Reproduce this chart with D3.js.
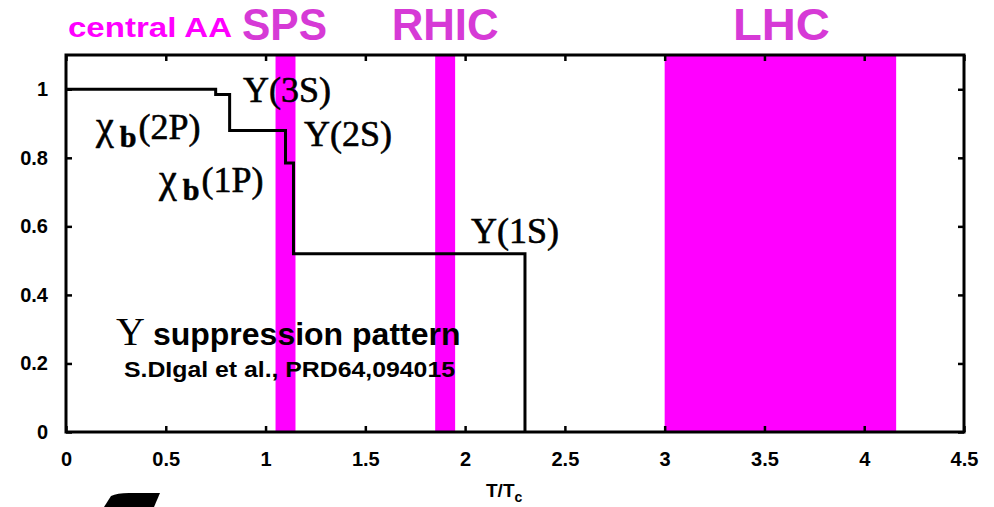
<!DOCTYPE html>
<html>
<head>
<meta charset="utf-8">
<script src="https://cdn.jsdelivr.net/npm/d3@7"></script>
<style>
  body { margin: 0; background: #fff; }
  svg { display: block; }
</style>
</head>
<body>
<div id="chart"></div>
<script>
// step function: suppression vs T/Tc
var stepT = [0, 0.75, 0.82, 1.10, 1.14, 2.30];
var stepS = [1, 0.985, 0.88, 0.785, 0.52, 0];

// collider temperature ranges
var bandNames = ['SPS', 'RHIC', 'LHC'];
var bandFrom = [1.05, 1.85, 3.0];
var bandTo = [1.15, 1.95, 4.16];

var xTicks = [0, 0.5, 1, 1.5, 2, 2.5, 3, 3.5, 4, 4.5];
var yTicks = [0, 0.2, 0.4, 0.6, 0.8, 1];

var W = 994, H = 507;
var svg = d3.select('#chart').append('svg')
    .attr('width', W)
    .attr('height', H);

var x = d3.scaleLinear().domain([0, 4.5]).range([66, 964]);
var y = d3.scaleLinear().domain([0, 1.1]).range([432, 55]);

var sans = 'Liberation Sans, Arial, sans-serif';
var serif = 'Liberation Serif, Times New Roman, serif';

// bands
svg.append('g').selectAll('rect')
    .data(bandNames)
    .join('rect')
    .attr('x', (d, i) => x(bandFrom[i]))
    .attr('width', (d, i) => x(bandTo[i]) - x(bandFrom[i]))
    .attr('y', y(1.1))
    .attr('height', y(0) - y(1.1))
    .attr('fill', '#ff00ff');

// band titles
var titleLen = { SPS: 85, RHIC: 107, LHC: 97 };
var titleShift = { SPS: -1, RHIC: 0, LHC: 1 };
svg.append('g').selectAll('text')
    .data(bandNames)
    .join('text')
    .attr('x', (d, i) => (x(bandFrom[i]) + x(bandTo[i])) / 2 + titleShift[d])
    .attr('y', 40)
    .attr('text-anchor', 'middle')
    .attr('textLength', d => titleLen[d])
    .attr('lengthAdjust', 'spacingAndGlyphs')
    .style('font-family', sans)
    .style('font-weight', 'bold')
    .style('font-size', '44px')
    .attr('fill', '#d63ad6')
    .text(d => d);

svg.append('text')
    .attr('x', 68).attr('y', 37)
    .attr('textLength', 164)
    .attr('lengthAdjust', 'spacingAndGlyphs')
    .style('font-family', sans)
    .style('font-weight', 'bold')
    .style('font-size', '27px')
    .attr('fill', '#ff00ff')
    .text('central AA');

// axes (ticks inside)
function styleAxis(g) {
    g.selectAll('.domain').remove();
    g.selectAll('.tick line').attr('stroke', '#000').attr('stroke-width', 2.5);
    g.selectAll('text')
        .style('font-family', sans)
        .style('font-weight', 'bold')
        .style('font-size', '20px')
        .attr('fill', '#000');
}

svg.append('g')
    .attr('transform', `translate(0,${y(0)})`)
    .call(d3.axisBottom(x).tickValues(xTicks).tickSizeInner(-6).tickSizeOuter(0).tickPadding(20).tickFormat(d3.format('')))
    .call(styleAxis);

svg.append('g')
    .attr('transform', `translate(0,${y(1.1)})`)
    .call(d3.axisTop(x).tickValues(xTicks).tickSizeInner(-6).tickSizeOuter(0).tickFormat(''))
    .call(styleAxis);

svg.append('g')
    .attr('transform', `translate(${x(0)},0)`)
    .call(d3.axisLeft(y).tickValues(yTicks).tickSizeInner(-6).tickSizeOuter(0).tickPadding(18).tickFormat(d3.format('')))
    .call(styleAxis);

svg.append('g')
    .attr('transform', `translate(${x(4.5)},0)`)
    .call(d3.axisRight(y).tickValues(yTicks).tickSizeInner(-6).tickSizeOuter(0).tickFormat(''))
    .call(styleAxis);

svg.append('rect')
    .attr('x', x(0)).attr('y', y(1.1))
    .attr('width', x(4.5) - x(0))
    .attr('height', y(0) - y(1.1))
    .attr('fill', 'none')
    .attr('stroke', '#000')
    .attr('stroke-width', 3);

// step line
var pts = stepT.map((t, i) => [t, stepS[i]]);
svg.append('path')
    .datum(pts)
    .attr('d', d3.line().x(d => x(d[0])).y(d => y(d[1])).curve(d3.curveStepAfter))
    .attr('fill', 'none')
    .attr('stroke', '#000')
    .attr('stroke-width', 3);

// state labels
function stateLabel(px, py, main, sub, tail) {
    var t = svg.append('text')
        .attr('x', px).attr('y', py)
        .style('font-family', serif)
        .style('font-size', '36px')
        .attr('fill', '#000')
        .attr('stroke', '#000')
        .attr('stroke-width', 0.6);
    if (sub) {
        t.append('tspan').style('font-size', '40px').text(main);
        t.append('tspan').attr('dx', 6).attr('dy', 8).style('font-weight', 'bold').style('font-size', '30px').text(sub);
        t.append('tspan').attr('dx', 2).attr('dy', -8).text(tail);
    } else {
        t.append('tspan').text(main);
        t.append('tspan').text(tail);
    }
}
stateLabel(243, 102, 'Υ', null, '(3S)');
stateLabel(96, 139, 'χ', 'b', '(2P)');
stateLabel(304, 146, 'Υ', null, '(2S)');
stateLabel(159, 192, 'χ', 'b', '(1P)');
stateLabel(471, 243, 'Υ', null, '(1S)');

var ttl = svg.append('text')
    .attr('x', 116).attr('y', 345)
    .attr('fill', '#000');
ttl.append('tspan').style('font-family', serif).style('font-size', '40px').text('Υ');
ttl.append('tspan').attr('dx', 8).style('font-family', sans).style('font-weight', 'bold').style('font-size', '32px').text('suppression pattern');

svg.append('text')
    .attr('x', 124).attr('y', 377)
    .attr('textLength', 331)
    .attr('lengthAdjust', 'spacingAndGlyphs')
    .style('font-family', sans)
    .style('font-weight', 'bold')
    .style('font-size', '22px')
    .attr('fill', '#000')
    .text('S.DIgal et al., PRD64,094015');

var xl = svg.append('text')
    .attr('x', 486).attr('y', 497)
    .style('font-family', sans)
    .style('font-weight', 'bold')
    .style('font-size', '19px')
    .attr('fill', '#000');
xl.append('tspan').text('T/T');
xl.append('tspan').attr('dy', 5).style('font-size', '14px').text('c');

// cut-off glyph at the bottom edge
svg.append('path')
    .attr('d', 'M104,507 L111,496 Q117,493 129,493 L160,493 L154,507 Z')
    .attr('fill', '#000');
</script>
</body>
</html>
